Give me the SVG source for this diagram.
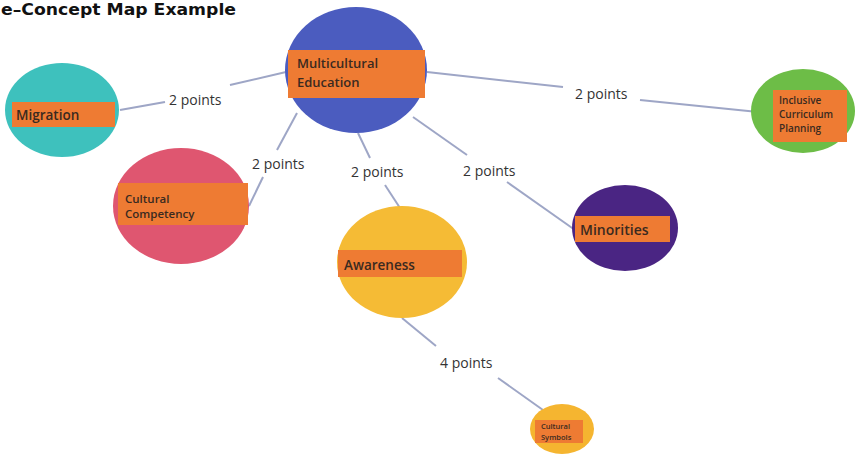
<svg xmlns="http://www.w3.org/2000/svg" width="856" height="454" viewBox="0 0 856 454">
<style>
.edge{stroke:#9ea6c6;stroke-width:2;fill:none}
.lbl{font-family:"Open Sans","Liberation Sans",sans-serif;font-size:14px;fill:#333}
.band{fill:#ee7b33}
.t{font-family:"Open Sans","Liberation Sans",sans-serif;font-weight:600;fill:#3a2a20}
.title{font-family:"DejaVu Sans","Liberation Sans",sans-serif;font-weight:bold;font-size:16px;fill:#111}
</style>
<rect width="856" height="454" fill="#ffffff"/>
<text class="title" x="1" y="15" textLength="235" lengthAdjust="spacingAndGlyphs">e–Concept Map Example</text>
<g id="connectors">
<line class="edge" x1="120" y1="110" x2="165" y2="102"/>
<line class="edge" x1="230" y1="85" x2="286" y2="72"/>
<line class="edge" x1="427" y1="72" x2="563" y2="87"/>
<line class="edge" x1="640" y1="100" x2="758" y2="112"/>
<line class="edge" x1="297" y1="113" x2="277" y2="150"/>
<line class="edge" x1="263" y1="177" x2="249" y2="206"/>
<line class="edge" x1="358" y1="133" x2="370" y2="158"/>
<line class="edge" x1="385" y1="185" x2="400" y2="208"/>
<line class="edge" x1="413" y1="117" x2="467" y2="155"/>
<line class="edge" x1="507" y1="182" x2="575" y2="230"/>
<line class="edge" x1="402" y1="318" x2="436" y2="346"/>
<line class="edge" x1="498" y1="378" x2="543" y2="410"/>
<text class="lbl" x="169" y="105">2 points</text>
<text class="lbl" x="575" y="99">2 points</text>
<text class="lbl" x="252" y="169">2 points</text>
<text class="lbl" x="351" y="177">2 points</text>
<text class="lbl" x="463" y="176">2 points</text>
<text class="lbl" x="440" y="368">4 points</text>
</g>
<g id="migration">
<ellipse cx="62" cy="110" rx="57" ry="47" fill="#3ec1bd"/>
<rect class="band" x="12" y="102" width="103" height="25"/>
<text class="t" x="16" y="119.5" font-size="13.5">Migration</text>
</g>
<g id="multicultural">
<ellipse cx="356" cy="70" rx="71" ry="63" fill="#4b5cbf"/>
<rect class="band" x="288" y="50" width="137" height="48"/>
<text class="t" x="297" y="68" font-size="13">Multicultural</text>
<text class="t" x="297" y="87" font-size="13">Education</text>
</g>
<g id="inclusive">
<ellipse cx="803" cy="111" rx="52" ry="42" fill="#6dbd47"/>
<rect class="band" x="773" y="90" width="74" height="52"/>
<text class="t" x="779" y="104" font-size="10">Inclusive</text>
<text class="t" x="779" y="118" font-size="10">Curriculum</text>
<text class="t" x="779" y="132" font-size="10">Planning</text>
</g>
<g id="competency">
<ellipse cx="181" cy="206" rx="68" ry="58" fill="#df5670"/>
<rect class="band" x="118" y="183" width="130" height="42"/>
<text class="t" x="125" y="203" font-size="11.5">Cultural</text>
<text class="t" x="125" y="218" font-size="11.5">Competency</text>
</g>
<g id="awareness">
<ellipse cx="402" cy="262" rx="65" ry="56" fill="#f5bb35"/>
<rect class="band" x="338" y="250" width="124" height="27"/>
<text class="t" x="344" y="270" font-size="13.5">Awareness</text>
</g>
<g id="minorities">
<ellipse cx="625" cy="228" rx="53" ry="43" fill="#4a2583"/>
<rect class="band" x="575" y="216" width="95" height="26"/>
<text class="t" x="580" y="235" font-size="14">Minorities</text>
</g>
<g id="symbols">
<ellipse cx="562" cy="429" rx="32" ry="25" fill="#f5b530"/>
<rect class="band" x="535" y="420" width="48" height="23"/>
<text class="t" x="541" y="429" font-size="7.5">Cultural</text>
<text class="t" x="541" y="440" font-size="7.5">Symbols</text>
</g>
</svg>
